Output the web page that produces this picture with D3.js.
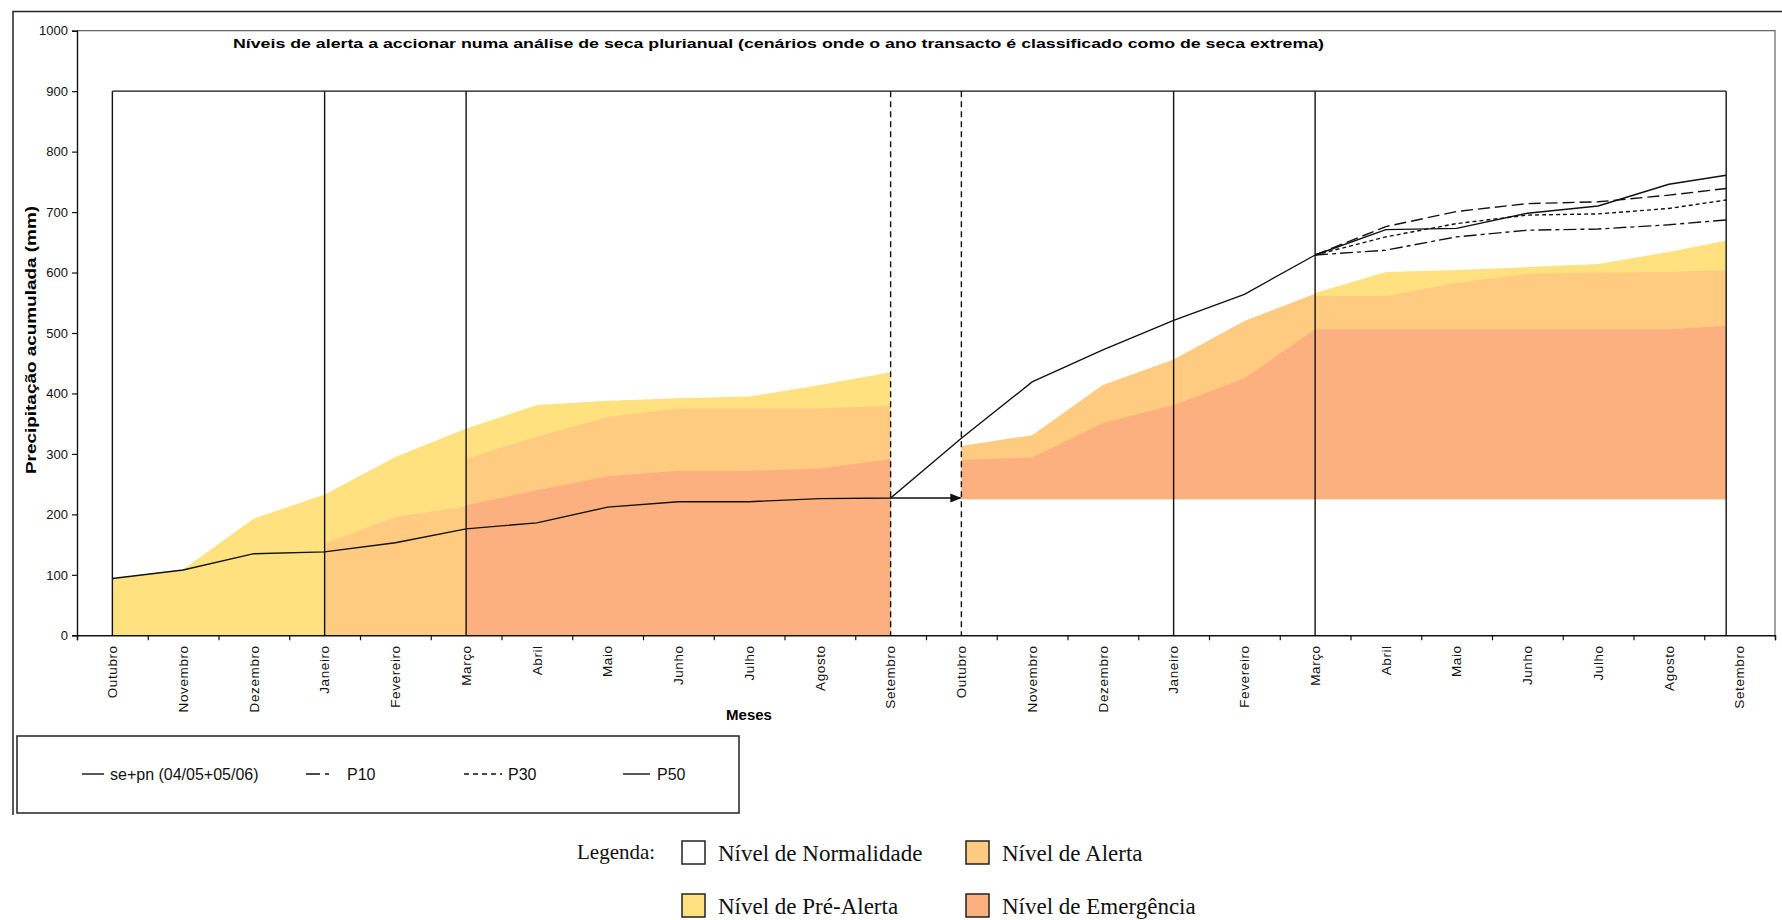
<!DOCTYPE html>
<html><head><meta charset="utf-8">
<script src="https://cdn.jsdelivr.net/npm/d3@7"></script>
<style>body{margin:0;background:#fff}</style>
</head><body>
<svg id="chart" width="1782" height="920"></svg>
<script>
// ---------- DATA ----------
const months = ["Outubro","Novembro","Dezembro","Janeiro","Fevereiro","Março","Abril","Maio","Junho","Julho","Agosto","Setembro",
                "Outubro","Novembro","Dezembro","Janeiro","Fevereiro","Março","Abril","Maio","Junho","Julho","Agosto","Setembro"];
const yTicks = [0,100,200,300,400,500,600,700,800,900,1000];

// observed accumulated precipitation se+pn (04/05+05/06), month index 0..17
const observed = [94,108,135,138,153,176,186,212,221,221,226,227,326,419,472,521,564,629];

// scenarios from Março (index 17) to Setembro (index 23)
const scenarioStart = 17;
const p10 = [629,637,659,670,672,679,687];
const p30 = [629,659,681,695,697,706,720];
const p50 = [629,671,673,698,710,746,761];
const pOther = [629,676,701,714,717,728,739];

// alert level thresholds (mm)
const normalityLevel = 900;
const preAlertYear1 = [94,109,193,233,295,342,381,388,392,395,414,435];   // months 0..11
const alertJanMar1 = [152,196,213];                                        // months 3..5
const alertMarSet1 = [292,329,361,375,375,375,380];                        // months 5..11
const emergMarSet1 = [215,240,263,272,272,276,291];                        // months 5..11
const year2Base = 225;
const alertOutMar2 = [313,331,414,456,520,565];                            // months 12..17
const emergOutMar2 = [290,294,351,381,425,506];                            // months 12..17
const preAlertMarSet2 = [566,601,604,609,614,634,653];                     // months 17..23
const alertMarSet2 = [561,561,583,598,600,601,604];                        // months 17..23
const emergMarSet2 = [506,506,506,506,506,506,512];                        // months 17..23

const solidBoundaries = [0,3,5,15,17,23];
const dashedBoundaries = [11,12];

const lineLegend = ["se+pn (04/05+05/06)","P10","P30","P50"];
const levelLegend = ["Nível de Normalidade","Nível de Alerta","Nível de Pré-Alerta","Nível de Emergência"];

// ---------- STYLE ----------
const C_PRE = "#FFE27F", C_ALERT = "#FECB80", C_EMERG = "#FDB07F";
const dashP10 = "13,4,4,4", dashP30 = "4,3", dashOther = "12,5";

// ---------- LAYOUT ----------
const svg = d3.select("#chart");
const plot = {left:77, right:1775, top:30.7, bottom:635.3};

const x = d3.scaleBand().domain(d3.range(months.length)).range([plot.left, plot.right]).padding(0);
const bw = x.bandwidth();
const xc = i => x(i) + bw/2;
const dx = d3.scaleLinear().domain([0, 22, 23]).range([xc(0), xc(22), xc(23) - 0.19*bw]);
const y = d3.scaleLinear().domain([0,1000]).range([plot.bottom, plot.top]);

// outer frame
svg.append("path").attr("d", `M13,815 V11.5 H1782`).attr("fill","none").attr("stroke","#222").attr("stroke-width",1.5);

// plot border (top and right)
svg.append("path").attr("d", `M${plot.left},${plot.top} H${plot.right} V${plot.bottom}`)
  .attr("fill","none").attr("stroke","#666").attr("stroke-width",1.2);

// areas
function drawArea(start, base, values, color){
  const data = values.map((v,k)=>({i:start+k, v}));
  svg.append("path").datum(data)
    .attr("d", d3.area().x(d=>dx(d.i)).y0(y(base)).y1(d=>y(d.v)))
    .attr("fill", color).attr("stroke","none");
}
drawArea(0, 0, preAlertYear1, C_PRE);
drawArea(3, 0, alertJanMar1, C_ALERT);
drawArea(5, 0, alertMarSet1, C_ALERT);
drawArea(5, 0, emergMarSet1, C_EMERG);
drawArea(12, year2Base, alertOutMar2, C_ALERT);
drawArea(12, year2Base, emergOutMar2, C_EMERG);
drawArea(17, year2Base, preAlertMarSet2, C_PRE);
drawArea(17, year2Base, alertMarSet2, C_ALERT);
drawArea(17, year2Base, emergMarSet2, C_EMERG);

// normality box
svg.append("line").attr("x1", dx(0)).attr("x2", dx(23)).attr("y1", y(normalityLevel)).attr("y2", y(normalityLevel))
  .attr("stroke","#111").attr("stroke-width",1.4);
solidBoundaries.forEach(i=>{
  svg.append("line").attr("x1",dx(i)).attr("x2",dx(i)).attr("y1",y(normalityLevel)).attr("y2",y(0))
    .attr("stroke","#111").attr("stroke-width",1.4);
});
dashedBoundaries.forEach(i=>{
  svg.append("line").attr("x1",dx(i)).attr("x2",dx(i)).attr("y1",y(normalityLevel)).attr("y2",y(0))
    .attr("stroke","#111").attr("stroke-width",1.4).attr("stroke-dasharray","6,4");
});

// lines
const line = d3.line().x(d=>dx(d.i)).y(d=>y(d.v));
svg.append("path").datum(observed.map((v,i)=>({i,v})))
  .attr("d", line).attr("fill","none").attr("stroke","#111").attr("stroke-width",1.4);
function scen(vals, dash){
  svg.append("path").datum(vals.map((v,k)=>({i:scenarioStart+k, v})))
    .attr("d", line).attr("fill","none").attr("stroke","#111").attr("stroke-width",1.4)
    .attr("stroke-dasharray", dash);
}
scen(p10, dashP10);
scen(p30, dashP30);
scen(pOther, dashOther);
scen(p50, null);

// arrow
const defs = svg.append("defs");
defs.append("marker").attr("id","arr").attr("viewBox","0 0 10 10").attr("refX",9).attr("refY",5)
  .attr("markerWidth",8).attr("markerHeight",8).attr("orient","auto")
  .append("path").attr("d","M0,1 L10,5 L0,9 Z").attr("fill","#111");
svg.append("line").attr("x1",dx(11)).attr("x2",dx(12)-1).attr("y1",y(observed[11])).attr("y2",y(observed[11]))
  .attr("stroke","#111").attr("stroke-width",1.4).attr("marker-end","url(#arr)");

// y axis
const yAxis = svg.append("g").attr("transform",`translate(${plot.left},0)`)
  .call(d3.axisLeft(y).tickValues(yTicks).tickSize(5).tickPadding(4).tickFormat(d3.format("d")));
yAxis.select(".domain").attr("stroke","#111").attr("stroke-width",1.4);
yAxis.selectAll(".tick line").attr("stroke","#111").attr("stroke-width",1.2);
yAxis.selectAll("text").attr("font-family","Liberation Sans, Arial, sans-serif").attr("font-size",13).attr("fill","#111");

// x axis tick marks between categories
const xEdge = d3.scaleLinear().domain([0, months.length]).range([plot.left, plot.right]);
const xTicksG = svg.append("g").attr("transform",`translate(0,${plot.bottom})`)
  .call(d3.axisBottom(xEdge).tickValues(d3.range(months.length+1)).tickSize(5).tickFormat(""));
xTicksG.select(".domain").attr("stroke","#111").attr("stroke-width",1.4);
xTicksG.selectAll(".tick line").attr("stroke","#111").attr("stroke-width",1.2);

// x axis labels
const xLab = svg.append("g").attr("transform",`translate(0,${plot.bottom})`)
  .call(d3.axisBottom(x).tickSize(0).tickFormat(i=>months[i]));
xLab.select(".domain").remove();
xLab.selectAll("text")
  .attr("font-family","Liberation Sans, Arial, sans-serif").attr("font-size",13.5).attr("letter-spacing",0.6).attr("fill","#111")
  .attr("text-anchor","end").attr("transform","rotate(-90)").attr("x",-10).attr("y",0).attr("dy","0.35em");

// titles
svg.append("text").attr("x",233).attr("y",48).attr("font-family","Liberation Sans, Arial, sans-serif")
  .attr("font-weight","bold").attr("font-size",13).attr("textLength",1091).attr("lengthAdjust","spacingAndGlyphs")
  .text("Níveis de alerta a accionar numa análise de seca plurianual (cenários onde o ano transacto é classificado como de seca extrema)");
svg.append("text").attr("transform","translate(36,340) rotate(-90)").attr("text-anchor","middle")
  .attr("font-family","Liberation Sans, Arial, sans-serif").attr("font-weight","bold").attr("font-size",14)
  .attr("textLength",268).attr("lengthAdjust","spacingAndGlyphs")
  .text("Precipitação acumulada (mm)");
svg.append("text").attr("x",749).attr("y",720).attr("text-anchor","middle")
  .attr("font-family","Liberation Sans, Arial, sans-serif").attr("font-weight","bold").attr("font-size",15)
  .text("Meses");

// line legend box
svg.append("rect").attr("x",17).attr("y",736).attr("width",722).attr("height",77)
  .attr("fill","#fff").attr("stroke","#222").attr("stroke-width",1.5);
const legItems = [
  {x1:82, x2:104, tx:110, dash:null},
  {x1:306, x2:334, tx:347, dash:"14,5,4,40"},
  {x1:464, x2:502, tx:508, dash:"5,4"},
  {x1:623, x2:650, tx:657, dash:null}
];
legItems.forEach((d,k)=>{
  svg.append("line").attr("x1",d.x1).attr("x2",d.x2).attr("y1",774).attr("y2",774)
    .attr("stroke","#111").attr("stroke-width",1.4).attr("stroke-dasharray",d.dash);
  svg.append("text").attr("x",d.tx).attr("y",780).attr("font-family","Liberation Sans, Arial, sans-serif")
    .attr("font-size",16).attr("fill","#111").text(lineLegend[k]);
});

// level legend
const serif = "Liberation Serif, Times New Roman, serif";
svg.append("text").attr("x",577).attr("y",859).attr("font-family",serif).attr("font-size",21).attr("fill","#111").text("Legenda:");
const lvl = [
  {bx:682, by:841, color:"#fff"},
  {bx:966, by:841, color:C_ALERT},
  {bx:682, by:894, color:C_PRE},
  {bx:966, by:894, color:C_EMERG}
];
lvl.forEach((d,k)=>{
  svg.append("rect").attr("x",d.bx).attr("y",d.by).attr("width",23).attr("height",23)
    .attr("fill",d.color).attr("stroke","#222").attr("stroke-width",1.5);
  svg.append("text").attr("x",d.bx+36).attr("y",d.by+20).attr("font-family",serif).attr("font-size",23)
    .attr("fill","#111").text(levelLegend[k]);
});
</script>
</body></html>
